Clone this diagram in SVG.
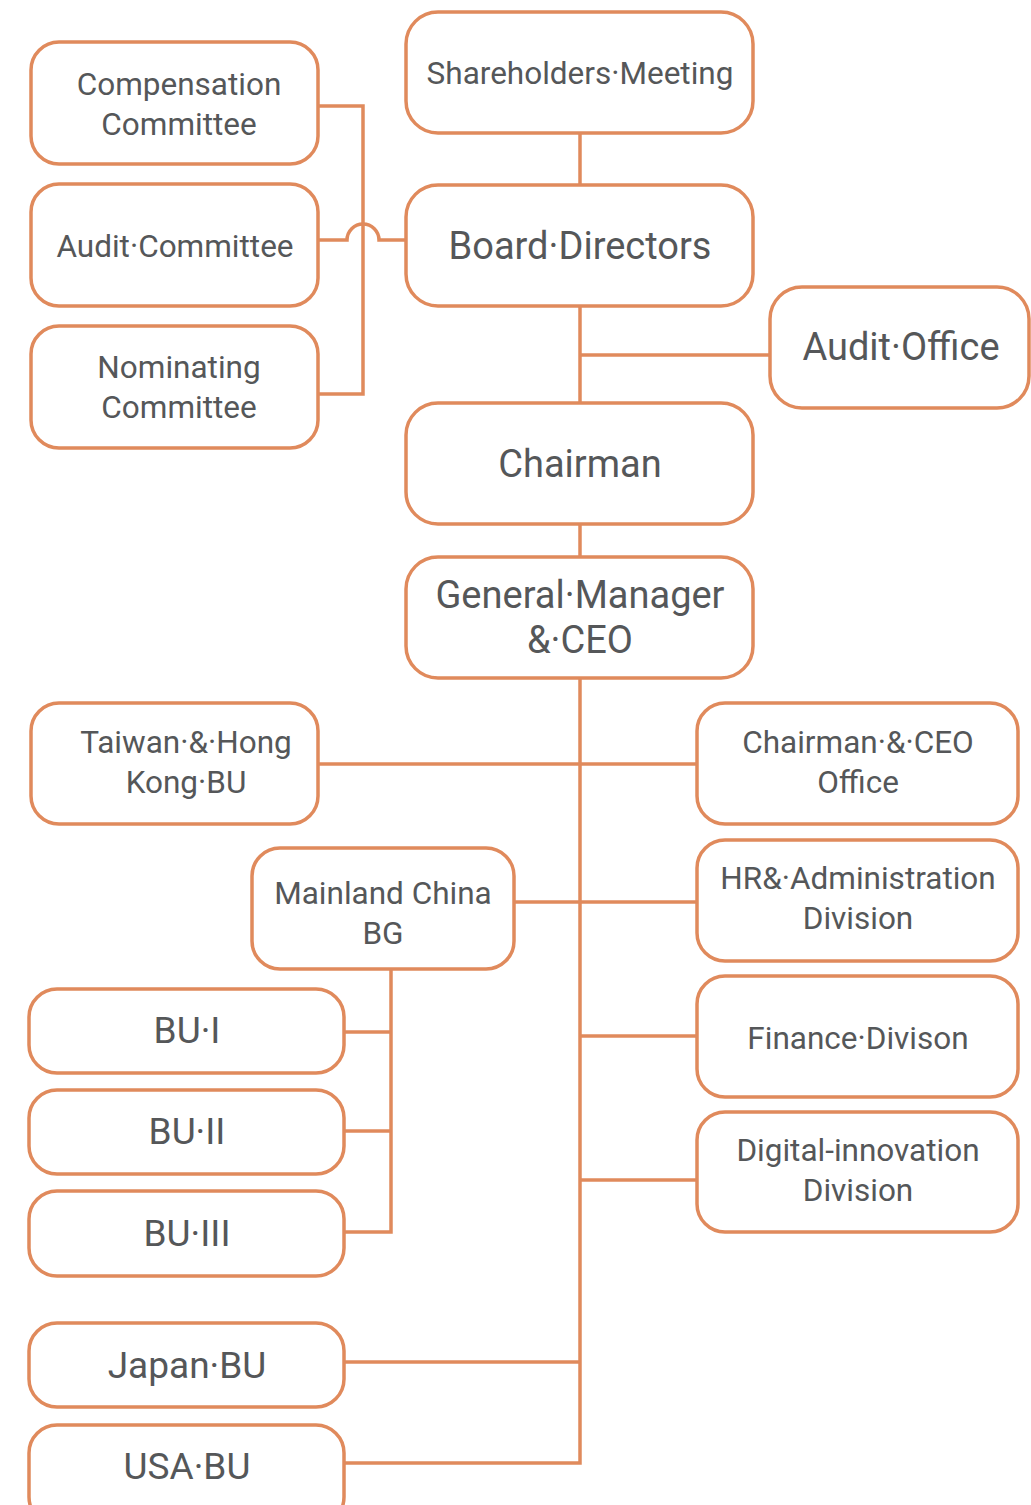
<svg xmlns="http://www.w3.org/2000/svg" width="1031" height="1505" viewBox="0 0 1031 1505">
<style>
.box{fill:#fff;stroke:#E08A5C;stroke-width:3.5}
.ln{fill:none;stroke:#E08A5C;stroke-width:3.5}
text{font-family:Roboto,"Liberation Sans",sans-serif;fill:#555759;text-anchor:middle;dominant-baseline:central}
.s{font-size:31.5px}
.m{font-size:37px}
.l{font-size:38px}
</style>
<rect width="1031" height="1505" fill="#fff"/>
<g id="connectors">
<path class="ln" d="M318,106 H363 V394 H318"/>
<path class="ln" d="M318,240 H347 A16,16 0 0 1 379,240 H406"/>
<path class="ln" d="M580,133 V185"/>
<path class="ln" d="M580,306 V403"/>
<path class="ln" d="M580,355 H770"/>
<path class="ln" d="M580,524 V557"/>
<path class="ln" d="M580,678 V1463 H344"/>
<path class="ln" d="M318,764 H697"/>
<path class="ln" d="M514,902 H697"/>
<path class="ln" d="M580,1036 H697"/>
<path class="ln" d="M580,1180 H697"/>
<path class="ln" d="M344,1362 H580"/>
<path class="ln" d="M391,969 V1232 H344"/>
<path class="ln" d="M344,1032 H391"/>
<path class="ln" d="M344,1131 H391"/>
</g>
<g id="compensation"><rect class="box" x="31" y="42" width="287" height="122" rx="28"/><text class="s" x="179" y="84">Compensation</text><text class="s" x="179" y="124">Committee</text></g>
<g id="audit-committee"><rect class="box" x="31" y="184" width="287" height="122" rx="28"/><text class="s" x="175" y="246">Audit·Committee</text></g>
<g id="nominating"><rect class="box" x="31" y="326" width="287" height="122" rx="28"/><text class="s" x="179" y="367">Nominating</text><text class="s" x="179" y="407">Committee</text></g>
<g id="shareholders"><rect class="box" x="406" y="12" width="347" height="121" rx="32"/><text class="s" x="580" y="73">Shareholders·Meeting</text></g>
<g id="board"><rect class="box" x="406" y="185" width="347" height="121" rx="32"/><text class="l" x="580" y="246">Board·Directors</text></g>
<g id="audit-office"><rect class="box" x="770" y="287" width="259" height="121" rx="32"/><text class="l" x="901" y="347">Audit·Office</text></g>
<g id="chairman"><rect class="box" x="406" y="403" width="347" height="121" rx="32"/><text class="l" x="580" y="464">Chairman</text></g>
<g id="gm-ceo"><rect class="box" x="406" y="557" width="347" height="121" rx="32"/><text class="l" x="580" y="595">General·Manager</text><text class="l" x="580" y="640">&amp;·CEO</text></g>
<g id="taiwan-hk"><rect class="box" x="31" y="703" width="287" height="121" rx="28"/><text class="s" x="186" y="742">Taiwan·&amp;·Hong</text><text class="s" x="186" y="782">Kong·BU</text></g>
<g id="chairman-ceo-office"><rect class="box" x="697" y="703" width="321" height="121" rx="28"/><text class="s" x="858" y="742">Chairman·&amp;·CEO</text><text class="s" x="858" y="782">Office</text></g>
<g id="mainland-china"><rect class="box" x="252" y="848" width="262" height="121" rx="28"/><text class="s" x="383" y="893">Mainland China</text><text class="s" x="383" y="933">BG</text></g>
<g id="hr-admin"><rect class="box" x="697" y="840" width="321" height="121" rx="28"/><text class="s" x="858" y="878">HR&amp;·Administration</text><text class="s" x="858" y="918">Division</text></g>
<g id="finance"><rect class="box" x="697" y="976" width="321" height="121" rx="28"/><text class="s" x="858" y="1038">Finance·Divison</text></g>
<g id="digital"><rect class="box" x="697" y="1112" width="321" height="120" rx="28"/><text class="s" x="858" y="1150">Digital-innovation</text><text class="s" x="858" y="1190">Division</text></g>
<g id="bu1"><rect class="box" x="29" y="989" width="315" height="84" rx="28"/><text class="m" x="187" y="1030">BU·I</text></g>
<g id="bu2"><rect class="box" x="29" y="1090" width="315" height="84" rx="28"/><text class="m" x="187" y="1131">BU·II</text></g>
<g id="bu3"><rect class="box" x="29" y="1191" width="315" height="85" rx="28"/><text class="m" x="187" y="1233">BU·III</text></g>
<g id="japan"><rect class="box" x="29" y="1323" width="315" height="84" rx="28"/><text class="m" x="187" y="1365">Japan·BU</text></g>
<g id="usa"><rect class="box" x="29" y="1425" width="315" height="100" rx="28"/><text class="m" x="187" y="1466">USA·BU</text></g>
</svg>
